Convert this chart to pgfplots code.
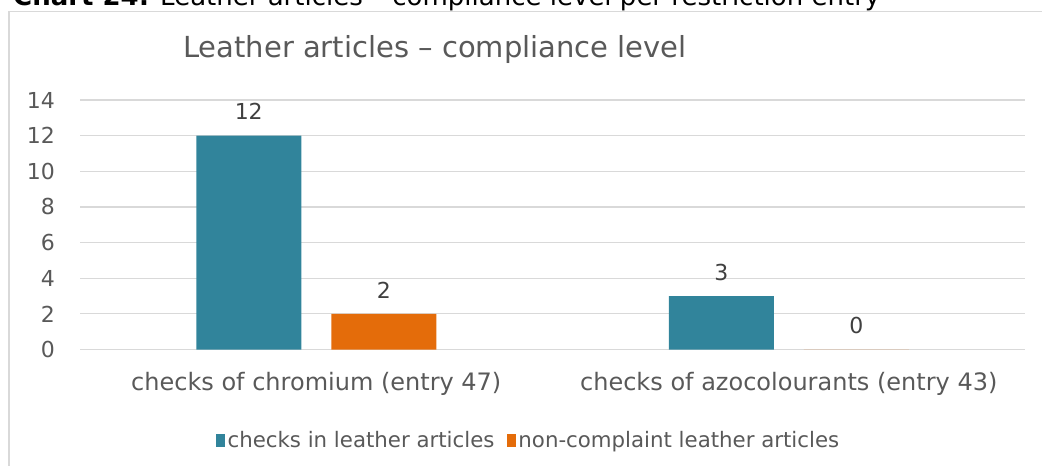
\documentclass[border=0pt]{standalone}
\usepackage{fontspec}
\setmainfont{DejaVu Sans}
\usepackage{pgfplots}
\pgfplotsset{compat=1.18}
\definecolor{tealc}{RGB}{49,132,155}
\definecolor{orngc}{RGB}{228,108,10}
\definecolor{gridc}{RGB}{217,217,217}
\definecolor{txtc}{RGB}{89,89,89}
\definecolor{lblc}{RGB}{64,64,64}
\newcommand{\fs}[1]{\fontsize{#1}{#1}\selectfont}
\begin{document}
\begin{tikzpicture}
\useasboundingbox (0bp,0bp) rectangle (1042bp,466bp);
\clip (0bp,0bp) rectangle (1042bp,466bp);
\draw[gridc, line width=1.3bp] (9bp,-5bp) -- (9bp,454.5bp) -- (1060bp,454.5bp);
\node[anchor=base west, inner sep=0pt, text=black] at (13bp,460.5bp) {\fs{26bp}\textbf{Chart 24:} Leather articles – compliance level per restriction entry};
\node[text=txtc, inner sep=0pt] at (435bp,416bp) {\fs{29bp}Leather articles – compliance level};
\begin{axis}[
  at={(80bp,116.5bp)}, anchor=south west,
  width=945bp, height=249.5bp, scale only axis,
  ymin=0, ymax=14, ytick={0,2,...,14},
  xmin=-0.5, xmax=1.5, xtick={0,1},
  xticklabels={checks of chromium (entry 47), checks of azocolourants (entry 43)},
  ymajorgrids, grid style={gridc, line width=1.2bp},
  axis line style={draw=none}, major tick length=0pt,
  /pgf/number format/assume math mode=true,
  yticklabel style={anchor=east, inner sep=0pt, xshift=-25bp, text=txtc, font=\fs{22bp}},
  xticklabel style={anchor=base, inner sep=0pt, yshift=-40.5bp, text=txtc, font=\fs{24bp}},
  ybar, bar width=105bp,
  nodes near coords,
  every node near coord/.append style={anchor=center, yshift=24bp, text=lblc, font=\fs{22bp}, inner sep=0pt},
  legend style={at={(axis description cs:0.475,-0.363)}, anchor=center, draw=none,
    legend columns=2, font=\fs{21.3bp}, text=txtc,
    /tikz/every even column/.append style={column sep=10bp},
    nodes={inner xsep=2.5bp, inner ysep=1.5bp}},
  legend image code/.code={\fill[#1] (0bp,-6.5bp) rectangle (9bp,6.5bp);},
]
\addplot[fill=tealc, draw=none, bar shift=-67.5bp] coordinates {(0,12) (1,3)};
\addplot[fill=orngc, draw=none, bar shift=67.5bp] coordinates {(0,2) (1,0)};
\legend{checks in leather articles, non-complaint leather articles}
\end{axis}
\end{tikzpicture}
\end{document}
